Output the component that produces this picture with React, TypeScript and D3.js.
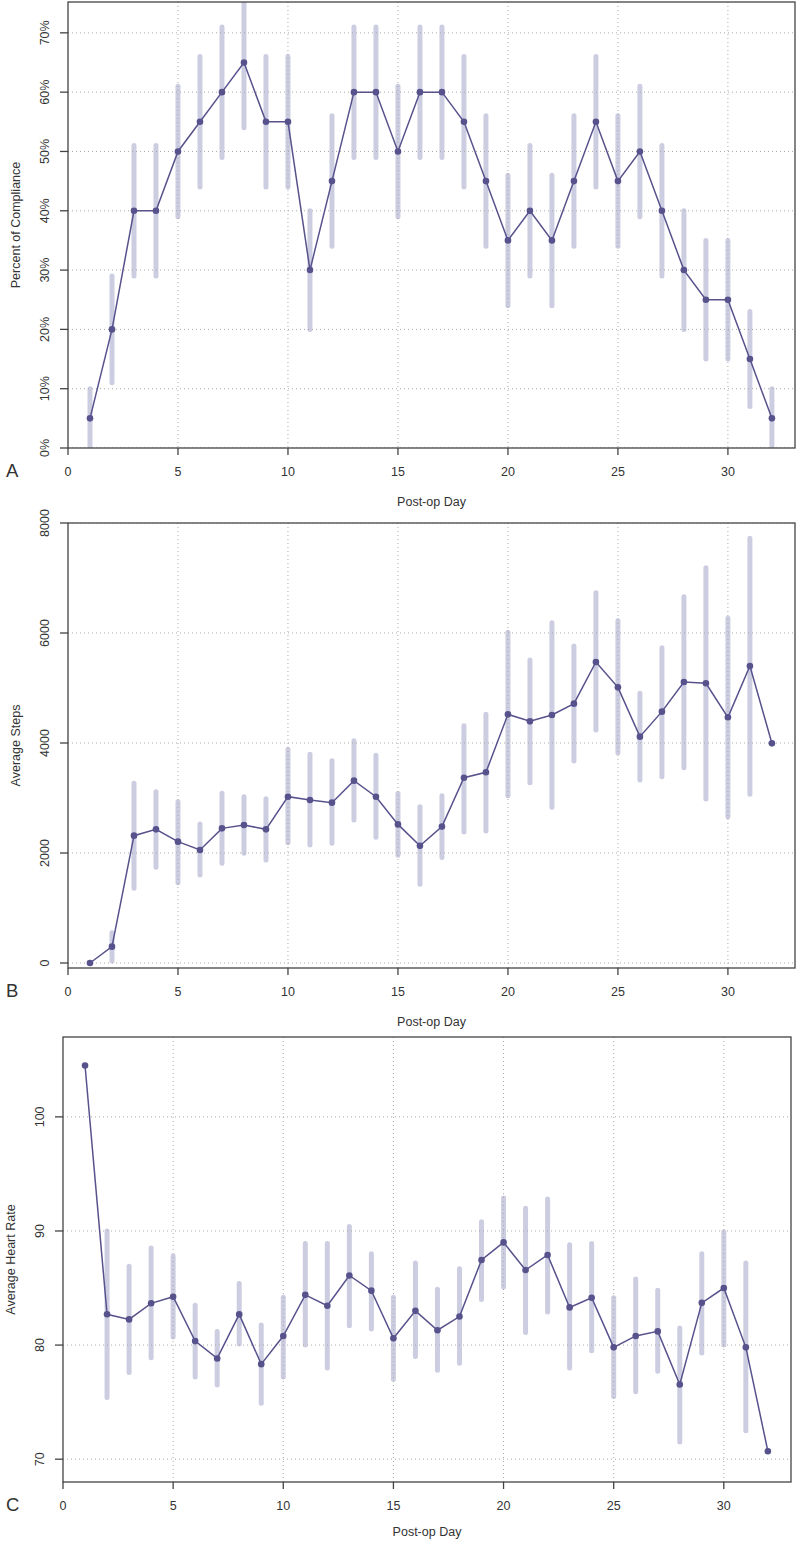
import * as React from "react";
import * as d3 from "d3";

// post-op days shared by all three panels
const days = [1, 2, 3, 4, 5, 6, 7, 8, 9, 10, 11, 12, 13, 14, 15, 16, 17, 18, 19, 20, 21, 22, 23, 24, 25, 26, 27, 28, 29, 30, 31, 32];
const xTicks = [0, 5, 10, 15, 20, 25, 30];

// A: percent of compliance
const compliance = [5, 20, 40, 40, 50, 55, 60, 65, 55, 55, 30, 45, 60, 60, 50, 60, 60, 55, 45, 35, 40, 35, 45, 55, 45, 50, 40, 30, 25, 25, 15, 5];
const complianceLow = [0, 11, 29, 29, 39, 44, 49, 54, 44, 44, 20, 34, 49, 49, 39, 49, 49, 44, 34, 24, 29, 24, 34, 44, 34, 39, 29, 20, 15, 15, 7, 0];
const complianceHigh = [10, 29, 51, 51, 61, 66, 71, 76, 66, 66, 40, 56, 71, 71, 61, 71, 71, 66, 56, 46, 51, 46, 56, 66, 56, 61, 51, 40, 35, 35, 23, 10];
const complianceTicks = [0, 10, 20, 30, 40, 50, 60, 70];

// B: average steps
const steps = [0, 297, 2315, 2430, 2206, 2055, 2448, 2509, 2430, 3024, 2964, 2915, 3315, 3024, 2520, 2130, 2480, 3369, 3467, 4521, 4394, 4509, 4715, 5473, 5012, 4115, 4570, 5109, 5085, 4467, 5400, 3994];
const stepsLow = [null, 36, 1358, 1739, 1461, 1600, 1812, 1994, 1873, 2188, 2145, 2176, 2600, 2285, 1960, 1430, 1920, 2380, 2400, 3042, 3279, 2830, 3673, 4236, 3824, 3327, 3388, 3552, 2980, 2660, 3067, null];
const stepsHigh = [null, 551, 3267, 3115, 2933, 2527, 3085, 3024, 2988, 3885, 3794, 3679, 4042, 3776, 3080, 2840, 3040, 4315, 4521, 6012, 5509, 6188, 5764, 6733, 6224, 4903, 5733, 6661, 7188, 6267, 7721, null];
const stepsTicks = [0, 2000, 4000, 6000, 8000];

// C: average heart rate
const heartRate = [104.5, 82.7, 82.25, 83.66, 84.24, 80.35, 78.83, 82.69, 78.33, 80.79, 84.4, 83.45, 86.1, 84.77, 80.6, 83.0, 81.3, 82.5, 87.46, 89.0, 86.58, 87.9, 83.3, 84.15, 79.8, 80.8, 81.2, 76.55, 83.7, 85.0, 79.8, 70.7];
const heartRateLow = [null, 75.4, 77.6, 78.9, 80.7, 77.2, 76.5, 80.1, 74.9, 77.2, 80.0, 78.0, 81.7, 81.4, 77.0, 79.0, 77.8, 78.4, 84.0, 85.1, 81.1, 82.9, 78.0, 79.5, 75.5, 75.9, 77.7, 71.5, 79.3, 80.0, 72.5, null];
const heartRateHigh = [null, 90.0, 86.9, 88.5, 87.8, 83.5, 81.2, 85.4, 81.75, 84.2, 88.9, 88.9, 90.4, 88.0, 84.2, 87.2, 84.9, 86.7, 90.8, 92.9, 92.0, 92.8, 88.8, 88.9, 84.15, 85.8, 84.8, 81.5, 88.0, 89.9, 87.2, null];
const heartRateTicks = [70, 80, 90, 100];

const FONT = "'Liberation Sans', Arial, Helvetica, sans-serif";
const LINE = "#57528c";
const BAR = "#cdcde1";
const TEXT = "#333";

const Panel = props => {
  const { id, left, right, top, bottom, yDomain, yTicks, fmt, values, low, high, yTitle, letter, xTitleY } = props;
  const x = d3.scaleLinear().domain([0, 33.05]).range([left, right]);
  const y = d3.scaleLinear().domain(yDomain).range([bottom, top]);
  const line = d3
    .line()
    .x((d, i) => x(days[i]))
    .y(d => y(d));
  const midY = (top + bottom) / 2;
  const midX = (left + right) / 2;

  return (
    <g fontFamily={FONT} fill={TEXT}>
      <defs>
        <clipPath id={"clip-" + id}>
          <rect x={left} y={top} width={right - left} height={bottom - top} />
        </clipPath>
      </defs>
      <g clipPath={`url(#clip-${id})`}>
        {days.map((d, i) =>
          low[i] == null ? null : (
            <line
              key={"bar" + i}
              x1={x(d)}
              x2={x(d)}
              y1={y(low[i])}
              y2={y(high[i])}
              stroke={BAR}
              strokeWidth={5}
              strokeLinecap="round"
            />
          )
        )}
        {xTicks.slice(1).map(t => (
          <line key={"gx" + t} x1={x(t)} x2={x(t)} y1={top} y2={bottom} stroke="#aaa" strokeWidth={1} strokeDasharray="1,3" />
        ))}
        {yTicks.map(t => (
          <line key={"gy" + t} x1={left} x2={right} y1={y(t)} y2={y(t)} stroke="#aaa" strokeWidth={1} strokeDasharray="1,3" />
        ))}
      </g>
      <path d={line(values)} fill="none" stroke={LINE} strokeWidth={1.5} />
      {values.map((v, i) => (
        <circle key={"pt" + i} cx={x(days[i])} cy={y(v)} r={3.3} fill={LINE} />
      ))}
      <rect x={left} y={top} width={right - left} height={bottom - top} fill="none" stroke="#444" strokeWidth={1.3} />
      {xTicks.map(t => (
        <g key={"xt" + t}>
          <line x1={x(t)} x2={x(t)} y1={bottom} y2={bottom + 7} stroke="#444" strokeWidth={1.3} />
          <text x={x(t)} y={bottom + 28} textAnchor="middle" fontSize={12.5}>
            {t}
          </text>
        </g>
      ))}
      {yTicks.map(t => (
        <g key={"yt" + t}>
          <line x1={left - 8} x2={left} y1={y(t)} y2={y(t)} stroke="#444" strokeWidth={1.3} />
          <text transform={`translate(${left - 19},${y(t)}) rotate(-90)`} textAnchor="middle" fontSize={12.5}>
            {fmt(t)}
          </text>
        </g>
      ))}
      <text transform={`translate(${left - 48.5},${midY}) rotate(-90)`} textAnchor="middle" fontSize={12.5}>
        {yTitle}
      </text>
      <text x={midX} y={xTitleY} textAnchor="middle" fontSize={12.5}>
        Post-op Day
      </text>
      <text x={6} y={bottom + 29} fontSize={18.5}>
        {letter}
      </text>
    </g>
  );
};

const App = () => (
  <svg width={800} height={1547} style={{ position: "absolute", left: 0, top: 0, background: "#fff" }}>
    <Panel
      id="a"
      left={68}
      right={795}
      top={2}
      bottom={448}
      yDomain={[0, 75.2]}
      yTicks={complianceTicks}
      fmt={t => t + "%"}
      values={compliance}
      low={complianceLow}
      high={complianceHigh}
      yTitle="Percent of Compliance"
      letter="A"
      xTitleY={505.5}
    />
    <Panel
      id="b"
      left={68}
      right={795}
      top={523}
      bottom={968}
      yDomain={[-91, 8000]}
      yTicks={stepsTicks}
      fmt={t => String(t)}
      values={steps}
      low={stepsLow}
      high={stepsHigh}
      yTitle="Average Steps"
      letter="B"
      xTitleY={1026}
    />
    <Panel
      id="c"
      left={63}
      right={791}
      top={1037}
      bottom={1482}
      yDomain={[68, 107]}
      yTicks={heartRateTicks}
      fmt={t => String(t)}
      values={heartRate}
      low={heartRateLow}
      high={heartRateHigh}
      yTitle="Average Heart Rate"
      letter="C"
      xTitleY={1536}
    />
  </svg>
);

export default App;
